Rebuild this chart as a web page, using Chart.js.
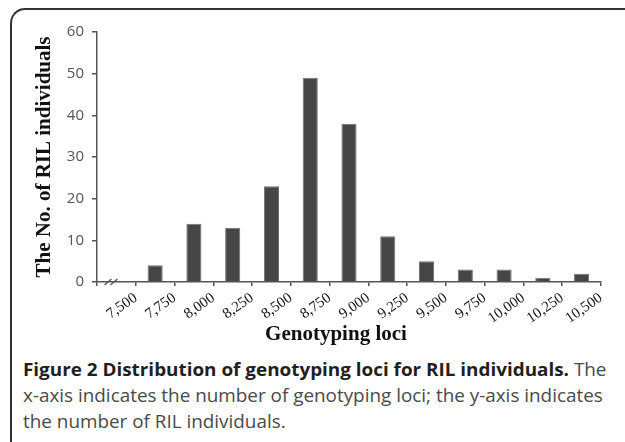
<!DOCTYPE html>
<html>
<head>
<meta charset="utf-8">
<script src="https://cdn.jsdelivr.net/npm/chart.js@4.4.1/dist/chart.umd.min.js"></script>
<style>
  html, body { margin: 0; padding: 0; background: #fff; }
  body { width: 625px; height: 442px; overflow: hidden; position: relative; }
  .frame {
    position: absolute; left: 10px; top: 8px; width: 700px; height: 500px;
    border-top: 2px solid #333; border-left: 2px solid #333;
    border-top-left-radius: 15px;
  }
  .chart-box { position: absolute; left: 0; top: 0; width: 625px; height: 330px; }
  .x-title {
    position: absolute; left: 186px; top: 321px; width: 300px;
    text-align: center; font: bold 21px/24px "Liberation Serif", serif; color: #111;
  }
  .caption {
    position: absolute; left: 23px; top: 356px;
    font: 18px/26px "Open Sans", sans-serif; color: #4a4a4a;
    white-space: nowrap; transform-origin: 0 0;
  }
  .caption b { color: #231f20; }
</style>
</head>
<body>
<div class="frame"></div>
<div class="chart-box"><canvas id="chart"></canvas></div>
<div class="x-title">Genotyping loci</div>
<div class="caption" id="caption"><span id="line1"><b>Figure 2 Distribution of genotyping loci for RIL individuals.</b> The</span><br>x-axis indicates the number of genotyping loci; the y-axis indicates<br>the number of RIL individuals.</div>
<script>
// histogram bins (edges) and counts
const binEdges = [7500, 7750, 8000, 8250, 8500, 8750, 9000, 9250, 9500, 9750, 10000, 10250, 10500];
const individuals = [4, 14, 13, 23, 49, 38, 11, 5, 3, 3, 1, 2];
const yTicks = [0, 10, 20, 30, 40, 50, 60];
const axisStart = 7250; // empty slot before the axis break

const bars = individuals.map((n, i) => ({ x: (binEdges[i] + binEdges[i + 1]) / 2, y: n }));

// the little "//" break mark on the x axis
const axisBreak = {
    id: 'axisBreak',
    afterDraw(chart) {
        const { ctx, scales: { x, y } } = chart;
        const y0 = y.getPixelForValue(0);
        const cx = x.getPixelForValue(axisStart + 90);
        ctx.save();
        ctx.strokeStyle = '#555';
        ctx.lineWidth = 1.3;
        [-3, 3].forEach(dx => {
            ctx.beginPath();
            ctx.moveTo(cx + dx - 3.5, y0 + 3);
            ctx.lineTo(cx + dx + 3.5, y0 - 3);
            ctx.stroke();
        });
        ctx.restore();
    }
};

new Chart(document.getElementById('chart'), {
    type: 'bar',
    data: {
        datasets: [{
            data: bars,
            backgroundColor: '#464646',
            borderColor: '#707070',
            borderWidth: 1,
            barPercentage: 0.39,
            categoryPercentage: 1
        }]
    },
    options: {
        responsive: true,
        maintainAspectRatio: false,
        animation: false,
        layout: { padding: { top: 32, right: 24, left: 0, bottom: 0 } },
        plugins: { legend: { display: false }, tooltip: { enabled: false } },
        scales: {
            x: {
                type: 'linear',
                offset: false,
                min: axisStart,
                max: binEdges[binEdges.length - 1],
                afterBuildTicks: s => { s.ticks = [axisStart, ...binEdges].map(v => ({ value: v })); },
                afterFit: s => { s.height = 48; },
                grid: { drawOnChartArea: false, drawTicks: true, tickLength: 4, color: '#555', lineWidth: 1.5, offset: false },
                border: { color: '#555', width: 1.5 },
                ticks: {
                    autoSkip: false,
                    minRotation: 35,
                    maxRotation: 35,
                    padding: 3,
                    color: '#111',
                    font: { family: '"Liberation Serif", serif', size: 15 },
                    callback: v => binEdges.includes(v) ? v.toLocaleString('en-US') : ''
                }
            },
            y: {
                min: 0,
                max: 60,
                afterBuildTicks: s => { s.ticks = yTicks.map(v => ({ value: v })); },
                afterFit: s => { s.width = 97; },
                grid: { drawOnChartArea: false, drawTicks: true, tickLength: 5, color: '#555', lineWidth: 1.5 },
                border: { color: '#555', width: 1.5 },
                ticks: {
                    padding: 8,
                    color: '#555',
                    font: { family: '"Open Sans", sans-serif', size: 15 }
                },
                title: {
                    display: true,
                    text: 'The No. of RIL individuals',
                    color: '#111',
                    padding: { top: 32, bottom: 0 },
                    font: { family: '"Liberation Serif", serif', size: 21, weight: 'bold' }
                }
            }
        }
    },
    plugins: [axisBreak]
});

// squeeze the caption so its first line spans the same width as in the figure
const cap = document.getElementById('caption');
const w = document.getElementById('line1').offsetWidth;
cap.style.transform = 'scaleX(' + (584 / w) + ')';
</script>
</body>
</html>
